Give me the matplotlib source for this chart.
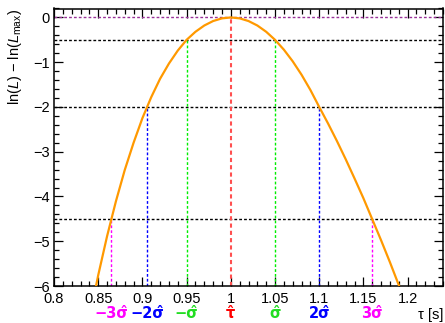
import matplotlib
matplotlib.use("Agg")
import matplotlib.pyplot as plt
import matplotlib.transforms as mtransforms
from matplotlib.ticker import MultipleLocator

plt.rcParams['font.family'] = ['Liberation Sans', 'DejaVu Sans']
plt.rcParams['mathtext.fontset'] = 'custom'
plt.rcParams['mathtext.rm'] = 'Liberation Sans'
plt.rcParams['mathtext.it'] = 'Liberation Sans:italic'

# log-likelihood curve
tau = [0.84, 0.85, 0.86, 0.87, 0.88, 0.89, 0.90, 0.91, 0.92, 0.93, 0.94, 0.95,
       0.96, 0.97, 0.98, 0.99, 1.00, 1.01, 1.02, 1.03, 1.04, 1.05, 1.06, 1.07,
       1.08, 1.09, 1.10, 1.11, 1.12, 1.13, 1.14, 1.15, 1.16, 1.17, 1.18, 1.19, 1.20]
dlnL = [-6.73, -5.76, -4.89, -4.11, -3.41, -2.80, -2.25, -1.78, -1.37, -1.03, -0.74, -0.50,
        -0.32, -0.18, -0.08, -0.02, 0.00, -0.02, -0.08, -0.18, -0.32, -0.50, -0.72, -0.98,
        -1.28, -1.62, -2.00, -2.37, -2.76, -3.17, -3.60, -4.04, -4.51, -4.98, -5.47, -5.98, -6.49]

# interval markers: position, level on curve, label, colour
mark_pos = [0.865, 0.905, 0.95, 1.0, 1.05, 1.1, 1.16]
mark_level = [-4.5, -2.0, -0.5, 0.0, -0.5, -2.0, -4.5]
mark_labels = ['\u22123\u03c3\u0302', '\u22122\u03c3\u0302', '\u2212\u03c3\u0302', '\u03c4\u0302',
               '\u03c3\u0302', '2\u03c3\u0302', '3\u03c3\u0302']
mark_colors = ['#ff00ff', '#0000ff', '#22dd22', '#ff0000', '#22dd22', '#0000ff', '#ff00ff']
line_colors = ['#ff00ff', '#0000ff', '#00ee00', '#ff5050', '#00ee00', '#0000ff', '#ff00ff']

h_levels = [0.0, -0.5, -2.0, -4.5]
h_colors = ['#993399', 'black', 'black', 'black']

fig = plt.figure(figsize=(4.45, 3.23), dpi=100)
ax = fig.add_axes([54 / 445, 1 - 286 / 323, 389 / 445, 277.5 / 323])

for lev, c in zip(h_levels, h_colors):
    ax.axhline(lev, color=c, lw=1.0, ls=(0, (2, 1.5)), zorder=2)

for x, lev, c in zip(mark_pos, mark_level, line_colors):
    lw = 1.5 if c == '#ff5050' else 1.0
    ax.plot([x, x], [-6, lev], color=c, lw=lw, ls=(0, (2, 1.5)), zorder=2)

ax.plot(tau, dlnL, color='#ff9900', lw=1.6, zorder=3)

ax.set_xlim(0.8, 1.24)
ax.set_ylim(-6, 0.2)
ax.xaxis.set_major_locator(MultipleLocator(0.05))
ax.xaxis.set_minor_locator(MultipleLocator(0.01))
ax.yaxis.set_major_locator(MultipleLocator(1))
ax.yaxis.set_minor_locator(MultipleLocator(0.2))
ax.set_xticks([0.8, 0.85, 0.9, 0.95, 1.0, 1.05, 1.1, 1.15, 1.2])
ax.set_xticklabels(['0.8', '0.85', '0.9', '0.95', '1', '1.05', '1.1', '1.15', '1.2'])
ax.set_yticks([0, -1, -2, -3, -4, -5, -6])
ax.set_yticklabels(['0', '\u22121', '\u22122', '\u22123', '\u22124', '\u22125', '\u22126'])
ax.tick_params(which='both', direction='in', top=True, right=True, width=0.9,
               labelsize=10.5, colors='black')
ax.tick_params(which='major', length=6.5)
ax.tick_params(which='minor', length=3.3)
ax.tick_params(axis='x', pad=4)
ax.tick_params(axis='y', pad=3)
for sp in ax.spines.values():
    sp.set_linewidth(1.1)

trans = mtransforms.blended_transform_factory(ax.transData, fig.transFigure)
for x, lab, c in zip(mark_pos, mark_labels, mark_colors):
    ax.text(x, 4.5 / 323, lab, transform=trans, ha='center', va='baseline',
            color=c, fontsize=10.5, fontweight='bold', family='DejaVu Sans',
            clip_on=False)

fig.text(443 / 445, 4.5 / 323, '\u03c4 [s]', ha='right', va='baseline', fontsize=10.5)
fig.text(15 / 445, 1 - 9 / 323, r'ln($L$) $-$ ln($L_{\rm max}$)', rotation=90,
         ha='center', va='top', fontsize=10.5)

fig.savefig('out.png', dpi=100)
